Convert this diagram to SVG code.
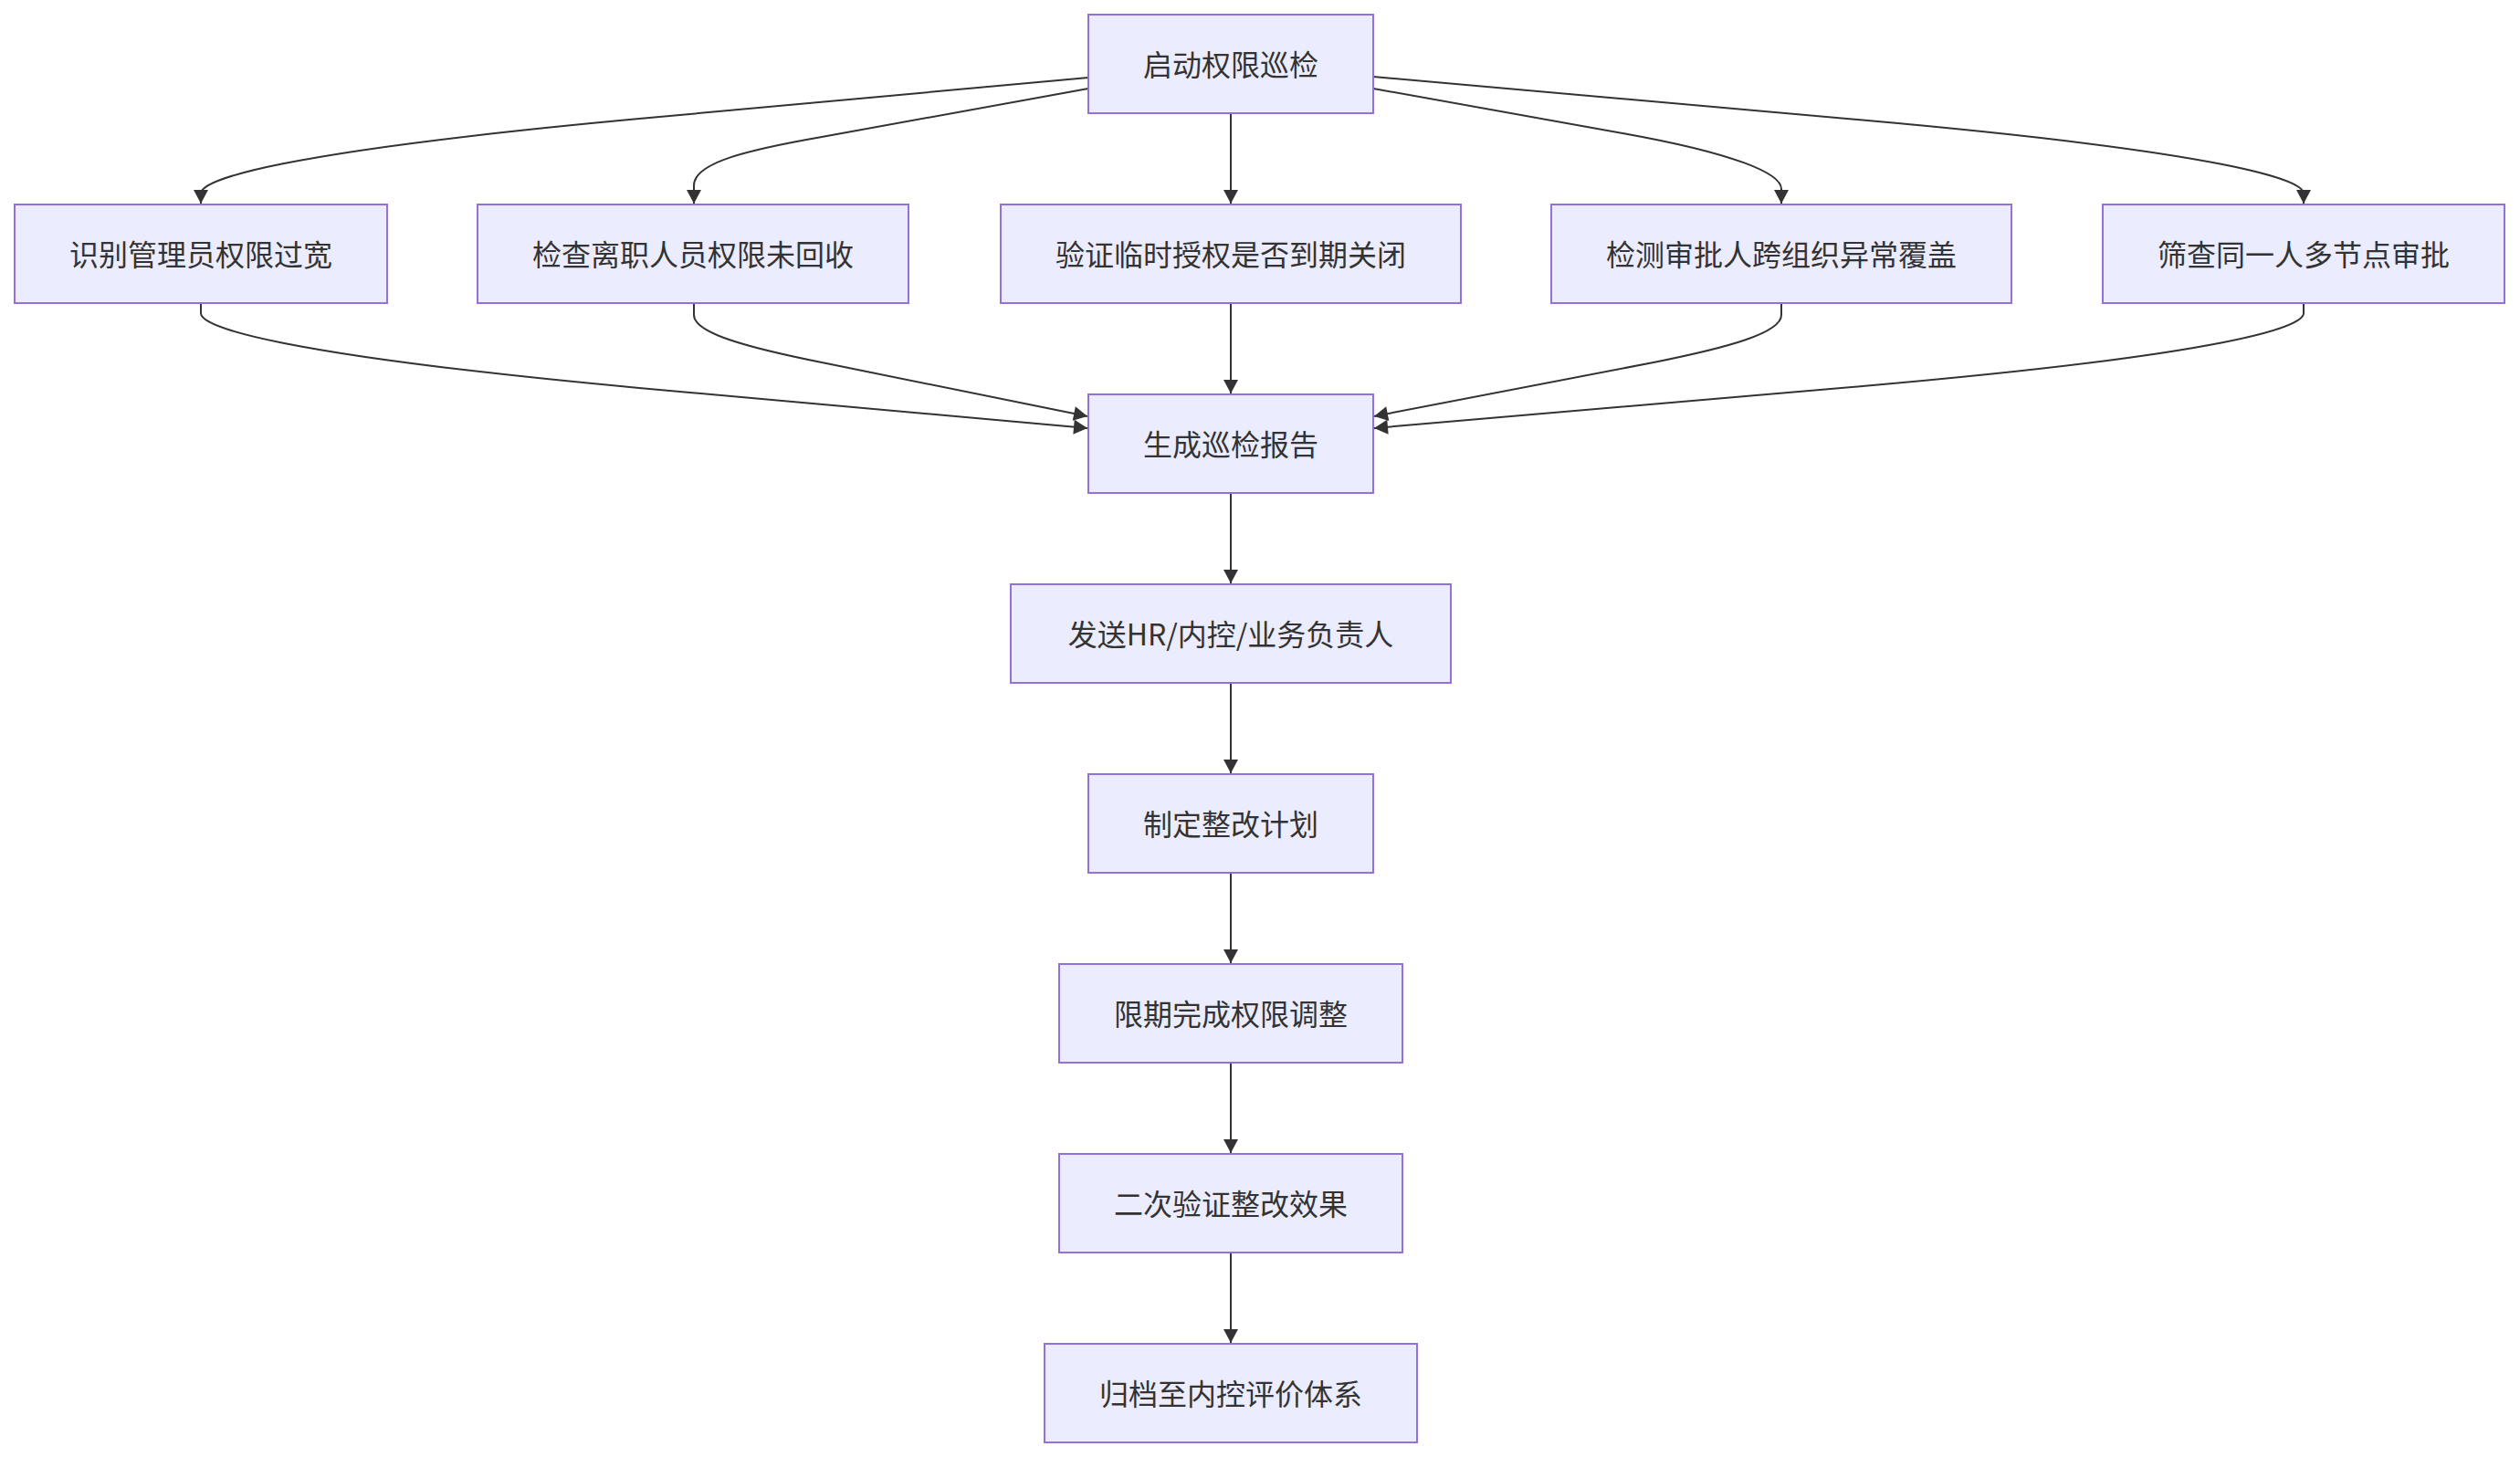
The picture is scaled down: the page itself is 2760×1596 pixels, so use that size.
<svg xmlns="http://www.w3.org/2000/svg" width="2760" height="1596" viewBox="0 0 2760 1596">
<style>
.node rect{fill:#ECECFF;stroke:#9370DB;stroke-width:2}
.node text{font-family:"Noto Sans CJK SC","Liberation Sans",sans-serif;font-size:32px;fill:#333;text-anchor:middle;dominant-baseline:central}
.edges path{fill:none;stroke:#333;stroke-width:2;marker-end:url(#arrow)}
</style>
<defs>
<marker id="arrow" markerUnits="userSpaceOnUse" markerWidth="16" markerHeight="16" viewBox="0 0 15 16" refX="15" refY="8" orient="auto">
<path d="M0,0 L15,8 L0,16 z" fill="#333"/>
</marker>
</defs>
<rect width="2760" height="1596" fill="#ffffff"/>
<g class="edges">
<path d="M1192,85 L700,130 C300,167 220,197 220,212 L220,223"/>
<path d="M1192,97 L900,150 C820,164 760,178 760,203 L760,223"/>
<path d="M1348,124 L1348,223"/>
<path d="M1504,97 L1780,146.4 C1900,168 1951,190 1951,207 L1951,223"/>
<path d="M1504,84 L2040,131.5 C2440,167 2523,197 2523,212 L2523,223"/>
<path d="M220,332 L220,343 C220,358 300,388 700,425 L1191,469"/>
<path d="M760,332 L760,345 C760,365 820,381 900,397 L1191,456"/>
<path d="M1348,332 L1348,431"/>
<path d="M1951,332 L1951,345 C1951,365 1891,381 1811,397 L1505,456"/>
<path d="M2523,332 L2523,343 C2523,358 2443,388 2040,423 L1505,469"/>
<path d="M1348,540 L1348,639"/>
<path d="M1348,748 L1348,847"/>
<path d="M1348,956 L1348,1055"/>
<path d="M1348,1164 L1348,1263"/>
<path d="M1348,1372 L1348,1471"/>
</g>
<g id="A" class="node"><rect x="1192" y="16" width="312" height="108"/><text x="1348" y="69">启动权限巡检</text></g>
<g id="B" class="node"><rect x="16" y="224" width="408" height="108"/><text x="220" y="277">识别管理员权限过宽</text></g>
<g id="C" class="node"><rect x="523" y="224" width="472" height="108"/><text x="759" y="277">检查离职人员权限未回收</text></g>
<g id="D" class="node"><rect x="1096" y="224" width="504" height="108"/><text x="1348" y="277">验证临时授权是否到期关闭</text></g>
<g id="E" class="node"><rect x="1699" y="224" width="504" height="108"/><text x="1951" y="277">检测审批人跨组织异常覆盖</text></g>
<g id="F" class="node"><rect x="2303" y="224" width="440" height="108"/><text x="2523" y="277">筛查同一人多节点审批</text></g>
<g id="G" class="node"><rect x="1192" y="432" width="312" height="108"/><text x="1348" y="485">生成巡检报告</text></g>
<g id="H" class="node"><rect x="1107" y="640" width="482" height="108"/><text x="1348" y="693">发送HR/内控/业务负责人</text></g>
<g id="I" class="node"><rect x="1192" y="848" width="312" height="108"/><text x="1348" y="901">制定整改计划</text></g>
<g id="J" class="node"><rect x="1160" y="1056" width="376" height="108"/><text x="1348" y="1109">限期完成权限调整</text></g>
<g id="K" class="node"><rect x="1160" y="1264" width="376" height="108"/><text x="1348" y="1317">二次验证整改效果</text></g>
<g id="L" class="node"><rect x="1144" y="1472" width="408" height="108"/><text x="1348" y="1525">归档至内控评价体系</text></g>
</svg>
